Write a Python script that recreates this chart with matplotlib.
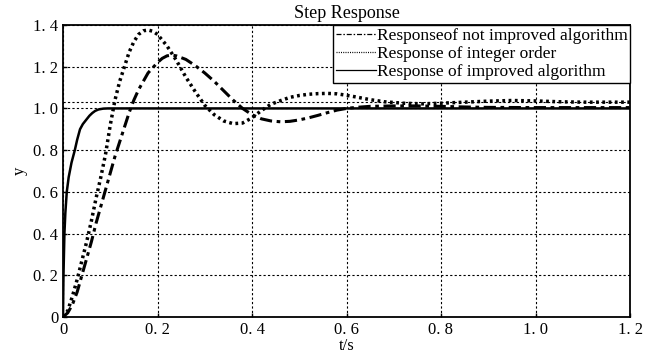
import numpy as np
import matplotlib
matplotlib.use("Agg")
import matplotlib.pyplot as plt

# values
t_int = [0, 0.01, 0.02, 0.03, 0.04, 0.05, 0.06, 0.07, 0.08, 0.09, 0.10, 0.11,
         0.12, 0.13, 0.14, 0.15, 0.16, 0.17, 0.18, 0.19, 0.20, 0.22, 0.24, 0.26,
         0.28, 0.30, 0.32, 0.34, 0.36, 0.38, 0.40, 0.42, 0.44, 0.46, 0.48, 0.50,
         0.52, 0.54, 0.56, 0.58, 0.60, 0.62, 0.65, 0.68, 0.72, 0.76, 0.80, 0.85,
         0.90, 0.95, 1.00, 1.05, 1.10, 1.15, 1.20]
y_int = [0, 0.03, 0.10, 0.18, 0.27, 0.36, 0.46, 0.57, 0.67, 0.78, 0.92, 1.04,
         1.13, 1.20, 1.27, 1.32, 1.355, 1.372, 1.376, 1.37, 1.355, 1.30, 1.23, 1.15,
         1.08, 1.015, 0.97, 0.94, 0.927, 0.93, 0.955, 0.99, 1.02, 1.037, 1.053, 1.062,
         1.068, 1.071, 1.072, 1.07, 1.063, 1.055, 1.042, 1.032, 1.025, 1.022, 1.025, 1.03,
         1.035, 1.038, 1.036, 1.032, 1.03, 1.03, 1.03]

t_old = [0, 0.01, 0.02, 0.03, 0.04, 0.05, 0.06, 0.07, 0.08, 0.09, 0.10, 0.11,
         0.12, 0.13, 0.14, 0.15, 0.16, 0.17, 0.18, 0.19, 0.20, 0.21, 0.22, 0.23,
         0.24, 0.26, 0.28, 0.30, 0.32, 0.34, 0.36, 0.38, 0.40, 0.42, 0.44, 0.46,
         0.48, 0.50, 0.52, 0.54, 0.56, 0.58, 0.60, 0.62, 0.65, 0.70, 0.75, 0.80,
         0.85, 0.90, 1.00, 1.10, 1.20]
y_old = [0, 0.02, 0.06, 0.12, 0.20, 0.28, 0.36, 0.45, 0.53, 0.61, 0.69, 0.77,
         0.84, 0.91, 0.98, 1.04, 1.09, 1.13, 1.17, 1.195, 1.22, 1.24, 1.252, 1.256,
         1.252, 1.235, 1.205, 1.17, 1.13, 1.085, 1.04, 1.0, 0.97, 0.95, 0.94, 0.936,
         0.938, 0.945, 0.955, 0.967, 0.98, 0.992, 1.0, 1.005, 1.01, 1.012, 1.012, 1.01,
         1.007, 1.005, 1.004, 1.004, 1.004]

t_new = [0, 0.001, 0.003, 0.005, 0.008, 0.012, 0.018, 0.025, 0.03, 0.036, 0.042,
         0.05, 0.056, 0.062, 0.068, 0.075, 0.085, 0.095, 1.2]
y_new = [0, 0.2, 0.4, 0.5, 0.6, 0.67, 0.74, 0.8, 0.85, 0.9, 0.925,
         0.948, 0.965, 0.978, 0.988, 0.995, 0.999, 1.0, 1.0]

ref_level = 1.03

xticks = [0, 0.2, 0.4, 0.6, 0.8, 1.0, 1.2]
xlabels = ['0', '0. 2', '0. 4', '0. 6', '0. 8', '1. 0', '1. 2']
yticks = [0, 0.2, 0.4, 0.6, 0.8, 1.0, 1.2, 1.4]
ylabels = ['0', '0. 2', '0. 4', '0. 6', '0. 8', '1. 0', '1. 2', '1. 4']

plt.rcParams['font.family'] = ['Liberation Serif', 'DejaVu Serif']

fig = plt.figure(figsize=(6.47, 3.58), dpi=100)
ax = fig.add_axes([63/647, 1 - 317/358, (630 - 63)/647, (317 - 25)/358])

ax.plot(t_old, y_old, color='black', lw=2.2, linestyle=(0, (4, 1.5, 1.2, 1.5)),
        label='Responseof not improved algorithm')
ax.plot(t_int, y_int, color='black', lw=2.5, linestyle=(0, (0.8, 1.0)),
        label='Response of integer order')
ax.plot(t_new, y_new, color='black', lw=1.8, label='Response of improved algorithm')
ax.axhline(ref_level, color='black', lw=0.8, linestyle=(0, (2, 2)))

ax.set_xlim(0, 1.2)
ax.set_ylim(0, 1.4)
ax.set_xticks(xticks)
ax.set_xticklabels(xlabels)
ax.set_yticks(yticks)
ax.set_yticklabels(ylabels)
ax.tick_params(direction='in', labelsize=12, length=3, width=1)
ax.grid(True, color='black', lw=0.8, linestyle=(0, (2, 2)))
for s in ax.spines.values():
    s.set_linewidth(1.3)

ax.set_title('Step Response', fontsize=13, pad=5)
ax.set_xlabel('t/s', fontsize=12, labelpad=0)
ax.set_ylabel('y', fontsize=12, labelpad=4)

leg = ax.legend(loc='upper right', bbox_to_anchor=(1, 1), borderaxespad=0,
                fancybox=False, edgecolor='black', framealpha=1, fontsize=12.5,
                handlelength=2.3, handletextpad=0.05, labelspacing=0.12,
                borderpad=0.15)
leg.get_frame().set_linewidth(1.0)
for h in leg.get_lines():
    h.set_linewidth(0.9)

fig.savefig('out.png', dpi=100)
